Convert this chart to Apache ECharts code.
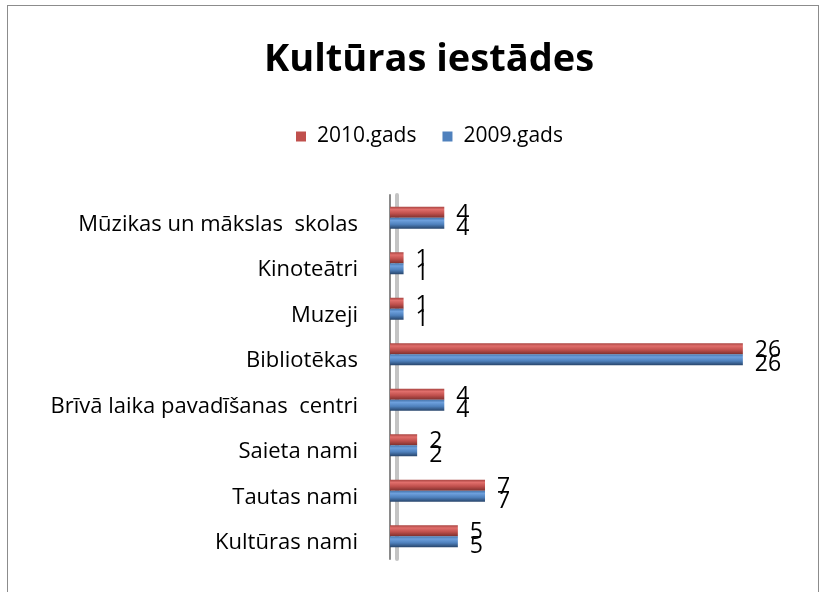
<!DOCTYPE html>
<html>
<head>
<meta charset="utf-8">
<script src="https://cdn.jsdelivr.net/npm/echarts@6/dist/echarts.min.js"></script>
<style>
  html, body { margin: 0; padding: 0; background: #fff; }
  #frame { position: absolute; left: 7px; top: 5px; width: 810px; height: 600px; border: 1px solid #8c8c8c; }
  #main { position: absolute; left: 0; top: 0; width: 827px; height: 592px; }
</style>
</head>
<body>
<div id="frame"></div>
<div id="main"></div>
<script>
// kategorijas no apakšas uz augšu
var categories = ["Kultūras nami", "Tautas nami", "Saieta nami", "Brīvā laika pavadīšanas  centri",
  "Bibliotēkas", "Muzeji", "Kinoteātri", "Mūzikas un mākslas  skolas"];
var data2010 = [5, 7, 2, 4, 26, 1, 1, 4];
var data2009 = [5, 7, 2, 4, 26, 1, 1, 4];

var textFont = "Open Sans";

function grad(edge, light, mid, dark) {
  return new echarts.graphic.LinearGradient(0, 0, 0, 1, [
    { offset: 0, color: edge },
    { offset: 0.25, color: light },
    { offset: 0.6, color: mid },
    { offset: 1, color: dark }
  ]);
}

var chart = echarts.init(document.getElementById("main"));
chart.setOption({
  animation: false,
  title: {
    text: "Kultūras iestādes",
    left: 259,
    top: 36,
    textStyle: { fontFamily: textFont, fontSize: 38, fontWeight: "bold", color: "#000" }
  },
  legend: {
    data: [
      { name: "2010.gads", itemStyle: { color: "#c0504d" } },
      { name: "2009.gads", itemStyle: { color: "#4f81bd" } }
    ],
    top: 121,
    left: 291,
    itemWidth: 10,
    itemHeight: 10,
    itemGap: 26,
    icon: "rect",
    textStyle: { fontFamily: textFont, fontSize: 21, color: "#000", padding: [0, 0, 0, 6] }
  },
  grid: { left: 390, right: 57, top: 195, bottom: 33 },
  xAxis: {
    type: "value",
    min: 0,
    max: 28,
    show: false
  },
  yAxis: [
    {
      type: "category",
      data: categories,
      offset: 5,
      axisLine: { show: true, lineStyle: { color: "#8a8a8a", width: 2 } },
      axisTick: { show: false },
      axisLabel: { fontFamily: textFont, fontSize: 22, color: "#000", margin: 27, verticalAlign: "top", lineHeight: 13 }
    },
    {
      type: "category",
      data: categories,
      position: "left",
      offset: -7,
      axisLine: { show: true, lineStyle: { color: "#c4c4c4", width: 4 } },
      axisTick: { show: false },
      axisLabel: { show: false }
    }
  ],
  series: [
    {
      name: "2010.gads",
      type: "bar",
      data: data2010,
      barWidth: 11,
      barGap: "0%",
      z: 3,
      itemStyle: { color: grad("#a94441", "#e06e6b", "#c0504d", "#7e302e") },
      label: { show: true, position: "right", distance: 12, offset: [0, 2], fontFamily: textFont, fontSize: 23, color: "#000" }
    },
    {
      name: "2009.gads",
      type: "bar",
      data: data2009,
      barWidth: 11,
      barGap: "0%",
      z: 3,
      itemStyle: { color: grad("#4674ab", "#6d9fdc", "#4f81bd", "#27446a") },
      label: { show: true, position: "right", distance: 12, offset: [0, 5], fontFamily: textFont, fontSize: 23, color: "#000" }
    }
  ]
});
</script>
</body>
</html>
